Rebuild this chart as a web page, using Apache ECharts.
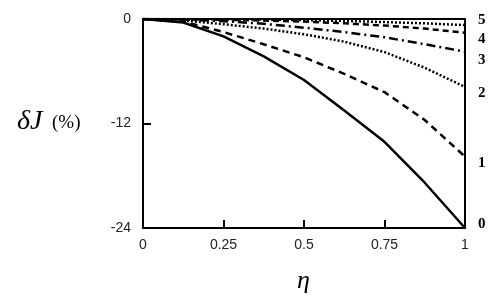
<!DOCTYPE html>
<html><head><meta charset="utf-8">
<script src="https://cdn.jsdelivr.net/npm/echarts@6/dist/echarts.min.js"></script>
<style>html,body{margin:0;padding:0;background:#fff}#c{width:500px;height:301px}</style>
</head><body><div id="c"></div>
<script>
const eta = [0, 0.125, 0.25, 0.375, 0.5, 0.625, 0.75, 0.875, 1];
const curve0 = [0, -0.4, -2.0, -4.3, -7.0, -10.5, -14.1, -18.8, -24];
const curve1 = [0, -0.3, -1.5, -2.9, -4.4, -6.3, -8.4, -11.6, -15.8];
const curve2 = [0, -0.15, -0.6, -1.1, -1.75, -2.6, -3.8, -5.6, -7.8];
const curve3 = [0, -0.05, -0.25, -0.55, -1.0, -1.5, -2.1, -2.9, -3.75];
const curve4 = [0, -0.02, -0.08, -0.18, -0.3, -0.5, -0.75, -1.1, -1.57];
const curve5 = [0, -0.01, -0.03, -0.07, -0.12, -0.22, -0.35, -0.5, -0.7];
const xTicks = [0, 0.25, 0.5, 0.75, 1];
const yTicks = [-24, -12, 0];
const curveLabels = ['0', '1', '2', '3', '4', '5'];

const chart = echarts.init(document.getElementById('c'), null, {renderer: 'canvas'});
const curves = [curve0, curve1, curve2, curve3, curve4, curve5];
const dashes = ['solid', [7, 5], [2, 2], [9, 4, 2, 4], [6, 4], [2, 2]];
const series = curves.map((c, i) => ({
  type: 'line',
  data: eta.map((x, j) => [x, c[j]]),
  showSymbol: false,
  symbol: 'none',
  lineStyle: {color: '#000', width: 2.5, type: dashes[i]},
  z: 2
}));

chart.setOption({
  animation: false,
  grid: {left: 143, right: 35, top: 19, bottom: 73, show: true, borderColor: '#000', borderWidth: 2, backgroundColor: 'transparent'},
  xAxis: {
    type: 'value', min: 0, max: 1, interval: 0.25,
    axisLine: {show: true, onZero: false, lineStyle: {color: '#000', width: 2}},
    axisTick: {show: true, inside: true, length: 8, lineStyle: {color: '#000', width: 2}},
    axisLabel: {color: '#222', fontFamily: 'Liberation Sans', fontSize: 14, margin: 10,
      formatter: v => xTicks.includes(v) ? String(v) : ''},
    splitLine: {show: false}
  },
  yAxis: {
    type: 'value', min: -24, max: 0, interval: 12,
    axisLine: {show: true, onZero: false, lineStyle: {color: '#000', width: 2}},
    axisTick: {show: true, inside: true, length: 8, lineStyle: {color: '#000', width: 2}},
    axisLabel: {color: '#222', fontFamily: 'Liberation Sans', fontSize: 14, margin: 12,
      formatter: v => yTicks.includes(v) ? String(v) : ''},
    splitLine: {show: false}
  },
  series: series,
  graphic: [
    {type: 'text', left: 478, top: 13, style: {text: curveLabels[5], font: 'bold 15px "Liberation Serif"', fill: '#000'}},
    {type: 'text', left: 478, top: 32, style: {text: curveLabels[4], font: 'bold 15px "Liberation Serif"', fill: '#000'}},
    {type: 'text', left: 478, top: 53, style: {text: curveLabels[3], font: 'bold 15px "Liberation Serif"', fill: '#000'}},
    {type: 'text', left: 478, top: 86, style: {text: curveLabels[2], font: 'bold 15px "Liberation Serif"', fill: '#000'}},
    {type: 'text', left: 478, top: 156, style: {text: curveLabels[1], font: 'bold 15px "Liberation Serif"', fill: '#000'}},
    {type: 'text', left: 478, top: 217, style: {text: curveLabels[0], font: 'bold 15px "Liberation Serif"', fill: '#000'}},
    {type: 'text', left: 297, top: 268, style: {text: 'η', font: 'italic 26px "Liberation Serif"', fill: '#000'}},
    {type: 'text', left: 17, top: 108, style: {text: 'δJ', font: 'italic 28px "Liberation Serif"', fill: '#000'}},
    {type: 'text', left: 52, top: 114, style: {text: '(%)', font: '19px "Liberation Serif"', fill: '#000'}}
  ]
});
</script></body></html>
